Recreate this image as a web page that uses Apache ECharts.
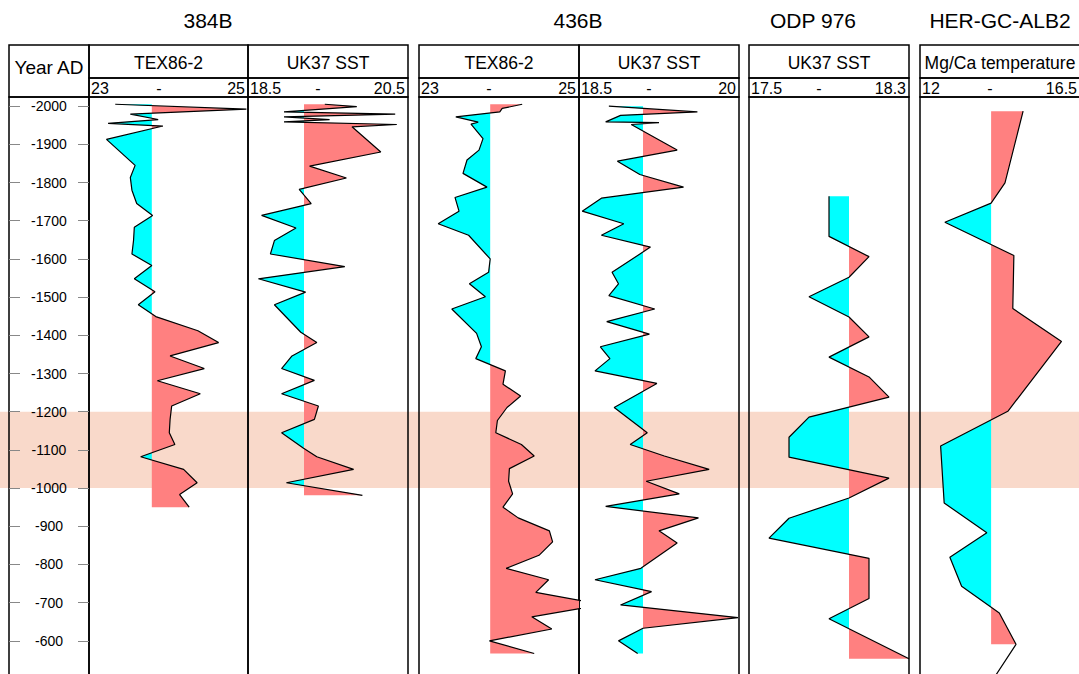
<!DOCTYPE html>
<html>
<head>
<meta charset="utf-8">
<script src="https://cdn.jsdelivr.net/npm/echarts@6/dist/echarts.min.js"></script>
<style>
html,body{margin:0;padding:0;background:#fff;}
#chart{width:1079px;height:674px;}
</style>
</head>
<body>
<div id="chart"></div>
<script>
// ---------------- DATA ----------------
const groupTitles = ['384B', '436B', 'ODP 976', 'HER-GC-ALB2'];
const panelTitles = ['TEX86-2', 'UK37 SST', 'TEX86-2', 'UK37 SST', 'UK37 SST', 'Mg/Ca temperature'];
const scaleMin = [23, 18.5, 23, 18.5, 17.5, 12];
const scaleMax = [25, 20.5, 25, 20, 18.3, 16.5];
const baselines = [23.79, 19.20, 23.89, 19.10, 18.0, 14.0];
const yearTicks = [-2000, -1900, -1800, -1700, -1600, -1500, -1400, -1300, -1200, -1100, -1000, -900, -800, -700, -600];
const yearAxisLabel = 'Year AD';
const highlightYears = [-1200, -1000];
const yearMin = -2024;
const yearMax = -508;

const b384TexYears = [-2005, -1992, -1979, -1965, -1955, -1948, -1913, -1845, -1813, -1780, -1745, -1714, -1683, -1648, -1613, -1583, -1548, -1514, -1480, -1449, -1412, -1381, -1346, -1313, -1281, -1247, -1215, -1180, -1145, -1114, -1082, -1049, -1014, -983, -950];
const b384TexValues = [23.33, 24.98, 23.52, 23.87, 23.24, 23.93, 23.22, 23.58, 23.52, 23.54, 23.60, 23.80, 23.57, 23.56, 23.54, 23.79, 23.57, 23.83, 23.62, 23.84, 24.37, 24.63, 24.02, 24.45, 23.86, 24.40, 24.04, 24.02, 24.01, 24.08, 23.65, 24.19, 24.36, 24.14, 24.26];

const b384UkYears = [-2005, -1999, -1985, -1979, -1972, -1965, -1959, -1952, -1946, -1880, -1843, -1812, -1782, -1745, -1714, -1681, -1648, -1613, -1580, -1548, -1513, -1480, -1408, -1381, -1346, -1313, -1282, -1247, -1215, -1180, -1145, -1105, -1082, -1049, -1014, -981];
const b384UkValues = [19.46, 19.86, 18.95, 20.34, 18.95, 19.52, 18.95, 20.36, 19.80, 20.16, 19.27, 19.73, 19.14, 19.29, 18.67, 19.10, 18.83, 18.78, 19.71, 18.63, 19.22, 18.83, 19.16, 19.36, 19.05, 18.92, 19.33, 18.92, 19.38, 19.33, 18.92, 19.19, 19.36, 19.82, 18.98, 19.93];

const b436TexYears = [-2005, -1994, -1985, -1972, -1958, -1953, -1915, -1885, -1859, -1824, -1788, -1761, -1725, -1692, -1662, -1600, -1565, -1535, -1501, -1469, -1405, -1370, -1339, -1307, -1272, -1241, -1211, -1177, -1145, -1114, -1084, -1051, -1018, -985, -950, -922, -888, -859, -824, -790, -760, -727, -695, -663, -631, -600, -567];
const b436TexValues = [24.29, 24.04, 24.01, 23.46, 23.74, 23.65, 23.80, 23.75, 23.60, 23.55, 23.85, 23.45, 23.50, 23.24, 23.62, 23.89, 23.87, 23.63, 23.83, 23.41, 23.72, 23.78, 23.71, 24.08, 24.05, 24.27, 24.10, 23.98, 23.96, 24.28, 24.44, 24.13, 24.12, 24.17, 24.05, 24.24, 24.63, 24.67, 24.50, 24.09, 24.62, 24.46, 25.3, 24.41, 24.66, 23.88, 24.44];

const b436UkYears = [-2000, -1985, -1976, -1959, -1957, -1952, -1885, -1856, -1821, -1788, -1759, -1725, -1692, -1662, -1631, -1565, -1535, -1504, -1469, -1436, -1403, -1370, -1339, -1307, -1274, -1211, -1145, -1114, -1084, -1049, -1018, -985, -952, -922, -888, -856, -790, -760, -729, -694, -661, -633, -600, -567];
const b436UkValues = [18.78, 19.61, 18.89, 18.75, 19.25, 18.99, 19.42, 18.86, 19.07, 19.48, 18.71, 18.53, 18.92, 18.71, 19.17, 18.81, 18.87, 18.78, 19.21, 18.76, 19.16, 18.70, 18.79, 18.65, 19.23, 18.83, 19.14, 18.98, 19.30, 19.72, 19.13, 19.44, 18.75, 19.62, 19.25, 19.42, 19.08, 18.65, 19.18, 18.89, 19.99, 19.10, 18.87, 19.05];

const odpYears = [-1764, -1659, -1606, -1552, -1501, -1448, -1396, -1343, -1291, -1238, -1186, -1133, -1081, -1026, -974, -921, -869, -816, -711, -658, -553];
const odpValues = [17.9, 17.9, 18.1, 18.0, 17.8, 18.0, 18.1, 17.9, 18.1, 18.2, 17.8, 17.7, 17.7, 18.2, 18.0, 17.7, 17.6, 18.1, 18.1, 17.9, 18.3];

const herYears = [-1987, -1799, -1746, -1696, -1609, -1470, -1384, -1201, -1110, -961, -883, -819, -743, -673, -591, -467];
const herValues = [14.90, 14.39, 14.00, 12.70, 14.64, 14.61, 15.98, 14.47, 12.58, 12.68, 13.88, 12.84, 13.17, 14.23, 14.70, 13.83];
const herFillEndYear = -591;

const panelYears = [b384TexYears, b384UkYears, b436TexYears, b436UkYears, odpYears, herYears];
const panelValues = [b384TexValues, b384UkValues, b436TexValues, b436UkValues, odpValues, herValues];
const fillEndYears = [null, null, null, null, null, herFillEndYear];

// ---------------- LAYOUT / STYLE ----------------
const FONT = '"Liberation Sans", Arial, sans-serif';
const panelX = [[89, 248], [248, 408], [419, 579], [579, 739], [749, 909], [920, 1080]];
const groupCenters = [208, 578, 813, 1000];
const headerTop = 45, headerMid = 78, plotTop = 97;
const yearCol = [9, 89];
const RED = '#FF8080', CYAN = '#00FFFF', BAND = '#F9D9CA';

function splitFill(years, vals, base, endYear) {
  const ys = [], vs = [];
  for (let i = 0; i < years.length; i++) {
    if (endYear != null && years[i] > endYear) break;
    ys.push(years[i]); vs.push(vals[i]);
  }
  const n = ys.length;
  const up = [[base, ys[0]]], dn = [[base, ys[0]]];
  for (let i = 0; i < n; i++) {
    if (i > 0) {
      const a = vs[i - 1] - base, b = vs[i] - base;
      if (a * b < 0) {
        const t = a / (a - b);
        const yc = ys[i - 1] + t * (ys[i] - ys[i - 1]);
        up.push([base, yc]); dn.push([base, yc]);
      }
    }
    up.push([Math.max(vs[i], base), ys[i]]);
    dn.push([Math.min(vs[i], base), ys[i]]);
  }
  up.push([base, ys[n - 1]]); dn.push([base, ys[n - 1]]);
  return { up, dn, pts: ys.map((y, i) => [vs[i], y]) };
}

const grids = [], xAxes = [], yAxes = [], series = [];

// grid 0: full-width band layer
grids.push({ left: 0, top: plotTop, width: 1079, height: 674 - plotTop + 2, show: false, outerBoundsMode: 'none' });
xAxes.push({ gridIndex: 0, type: 'value', min: 0, max: 1, show: false });
yAxes.push({ gridIndex: 0, type: 'value', min: yearMin, max: yearMax, inverse: true, show: false });
series.push({
  type: 'custom', xAxisIndex: 0, yAxisIndex: 0, z: -1, silent: true, animation: false,
  data: [[highlightYears[0], highlightYears[1]]],
  renderItem: function (params, api) {
    const p0 = api.coord([0, api.value(0)]);
    const p1 = api.coord([1, api.value(1)]);
    return { type: 'rect', shape: { x: p0[0], y: p0[1], width: p1[0] - p0[0], height: p1[1] - p0[1] }, style: { fill: BAND } };
  }
});

// grid 1: year column
grids.push({ left: yearCol[0], top: plotTop, width: yearCol[1] - yearCol[0], height: 674 - plotTop + 2, show: true, borderColor: '#000', borderWidth: 1.5, backgroundColor: 'transparent', outerBoundsMode: 'none' });
xAxes.push({ gridIndex: 1, type: 'value', min: 0, max: 1, show: false });
yAxes.push({
  gridIndex: 1, type: 'value', min: yearMin, max: yearMax, inverse: true, position: 'left',
  axisLine: { show: false }, splitLine: { show: false },
  axisTick: { show: true, inside: true, length: 11, customValues: yearTicks, lineStyle: { color: '#888', width: 1 } },
  axisLabel: { show: true, inside: true, margin: 40, align: 'center', verticalAlign: 'middle', customValues: yearTicks, color: '#000', fontSize: 14, fontFamily: FONT, formatter: function (v) { return String(v); } }
});
yAxes.push({
  gridIndex: 1, type: 'value', min: yearMin, max: yearMax, inverse: true, position: 'right',
  axisLine: { show: false }, splitLine: { show: false },
  axisTick: { show: true, inside: true, length: 11, customValues: yearTicks, lineStyle: { color: '#888', width: 1 } },
  axisLabel: { show: false }
});

// panels
const graphics = [];
panelX.forEach(function (px, i) {
  const gi = grids.length;
  grids.push({ left: px[0], top: plotTop, width: px[1] - px[0], height: 674 - plotTop + 2, show: true, borderColor: '#000', borderWidth: 1.5, backgroundColor: 'transparent', outerBoundsMode: 'none' });
  const xi = xAxes.length, yi = yAxes.length;
  xAxes.push({ gridIndex: gi, type: 'value', min: scaleMin[i], max: scaleMax[i], show: false });
  yAxes.push({ gridIndex: gi, type: 'value', min: yearMin, max: yearMax, inverse: true, show: false });

  const fill = splitFill(panelYears[i], panelValues[i], baselines[i], fillEndYears[i]);
  series.push({
    type: 'custom', xAxisIndex: xi, yAxisIndex: yi, z: 2, silent: true, animation: false,
    data: fill.pts,
    renderItem: function (params, api) {
      if (params.dataIndex !== 0) return null;
      const cs = params.coordSys;
      return {
        type: 'group',
        clipPath: { type: 'rect', shape: { x: cs.x, y: cs.y, width: cs.width, height: cs.height } },
        children: [
          { type: 'polygon', shape: { points: fill.up.map(function (p) { return api.coord(p); }) }, style: { fill: RED } },
          { type: 'polygon', shape: { points: fill.dn.map(function (p) { return api.coord(p); }) }, style: { fill: CYAN } }
        ]
      };
    }
  });
  series.push({
    type: 'line', xAxisIndex: xi, yAxisIndex: yi, z: 3, silent: true, animation: false,
    showSymbol: false, symbol: 'none', clip: true,
    data: panelYears[i].map(function (y, k) { return [panelValues[i][k], y]; }),
    lineStyle: { color: '#000', width: 1.2 }
  });

  // header boxes
  graphics.push({ type: 'rect', shape: { x: px[0], y: headerTop, width: px[1] - px[0], height: headerMid - headerTop }, style: { fill: 'none', stroke: '#000', lineWidth: 1.5 } });
  graphics.push({ type: 'rect', shape: { x: px[0], y: headerMid, width: px[1] - px[0], height: plotTop - headerMid }, style: { fill: 'none', stroke: '#000', lineWidth: 1.5 } });
  graphics.push({ type: 'text', style: { text: panelTitles[i], x: (px[0] + px[1]) / 2, y: 63, align: 'center', verticalAlign: 'middle', font: '17.5px ' + FONT, fill: '#000' } });
  graphics.push({ type: 'text', style: { text: String(scaleMin[i]), x: px[0] + 2, y: 88, align: 'left', verticalAlign: 'middle', font: '16px ' + FONT, fill: '#000' } });
  graphics.push({ type: 'text', style: { text: '-', x: px[0] + 70, y: 88, align: 'center', verticalAlign: 'middle', font: '16px ' + FONT, fill: '#000' } });
  graphics.push({ type: 'text', style: { text: String(scaleMax[i]), x: px[1] - 3, y: 88, align: 'right', verticalAlign: 'middle', font: '16px ' + FONT, fill: '#000' } });
});

// year column header
graphics.push({ type: 'rect', shape: { x: yearCol[0], y: headerTop, width: yearCol[1] - yearCol[0], height: plotTop - headerTop }, style: { fill: 'none', stroke: '#000', lineWidth: 1.5 } });
graphics.push({ type: 'text', style: { text: yearAxisLabel, x: (yearCol[0] + yearCol[1]) / 2, y: 67, align: 'center', verticalAlign: 'middle', font: '19px ' + FONT, fill: '#000' } });

// group titles
groupTitles.forEach(function (t, i) {
  graphics.push({ type: 'text', style: { text: t, x: groupCenters[i], y: 20, align: 'center', verticalAlign: 'middle', font: '21px ' + FONT, fill: '#000' } });
});

const chart = echarts.init(document.getElementById('chart'), null, { renderer: 'svg', width: 1079, height: 674 });
chart.setOption({
  backgroundColor: '#fff',
  animation: false,
  grid: grids,
  xAxis: xAxes,
  yAxis: yAxes,
  series: series,
  graphic: { elements: graphics }
});
</script>
</body>
</html>
